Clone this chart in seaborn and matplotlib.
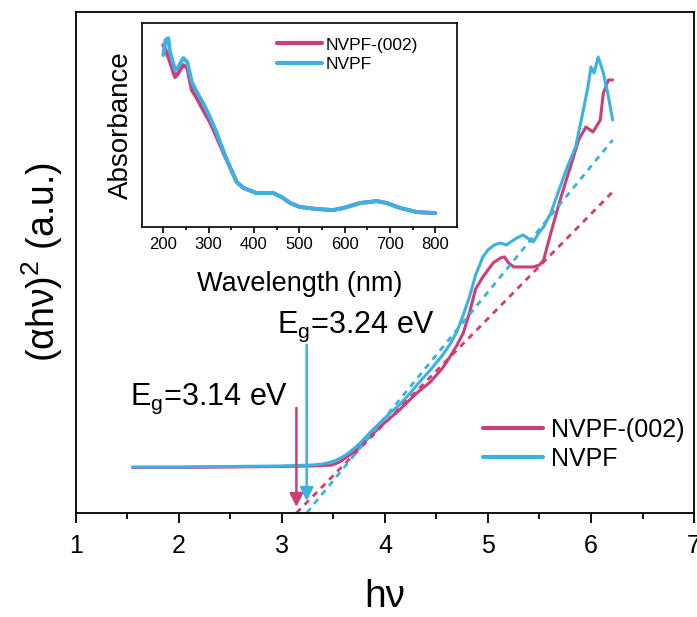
import numpy as np
import pandas as pd
import matplotlib
matplotlib.use("Agg")
import matplotlib.pyplot as plt
import seaborn as sns

# Tauc plot data: photon energy (eV) vs (alpha*h*nu)^2 (a.u.)
hv_nvpf = [1.55, 2.0, 2.5, 3.0, 3.3, 3.40, 3.46, 3.52, 3.58, 3.64, 3.70, 3.76,
           3.85, 3.95, 4.05, 4.14, 4.22, 4.31, 4.44, 4.56, 4.64, 4.70, 4.76,
           4.82, 4.88, 4.95, 5.00, 5.06, 5.12, 5.18, 5.22, 5.28, 5.34, 5.41,
           5.44, 5.50, 5.54, 5.61, 5.70, 5.77, 5.85, 5.92, 5.97, 6.00, 6.03,
           6.07, 6.12, 6.17, 6.21]
tauc_nvpf = [0.46, 0.46, 0.465, 0.47, 0.48, 0.49, 0.505, 0.525, 0.555, 0.595,
             0.645, 0.70, 0.80, 0.90, 1.00, 1.08, 1.17, 1.28, 1.43, 1.58, 1.70,
             1.82, 1.98, 2.16, 2.38, 2.56, 2.63, 2.68, 2.70, 2.68, 2.71, 2.75,
             2.78, 2.73, 2.71, 2.81, 2.86, 3.00, 3.26, 3.46, 3.66, 4.00, 4.26,
             4.46, 4.40, 4.56, 4.40, 4.16, 3.93]

hv_002 = [1.55, 2.0, 2.5, 3.0, 3.3, 3.40, 3.49, 3.56, 3.63, 3.70, 3.76, 3.85,
          3.95, 4.05, 4.14, 4.22, 4.31, 4.44, 4.56, 4.63, 4.70, 4.76, 4.82,
          4.88, 4.95, 5.05, 5.12, 5.16, 5.20, 5.25, 5.35, 5.44, 5.50, 5.54,
          5.61, 5.70, 5.80, 5.88, 5.95, 6.02, 6.09, 6.12, 6.17, 6.21]
tauc_002 = [0.455, 0.455, 0.46, 0.465, 0.47, 0.475, 0.48, 0.51, 0.56, 0.61,
            0.67, 0.76, 0.86, 0.95, 1.03, 1.11, 1.20, 1.31, 1.45, 1.56, 1.68,
            1.80, 2.00, 2.24, 2.36, 2.50, 2.55, 2.56, 2.50, 2.46, 2.46, 2.46,
            2.48, 2.53, 2.80, 3.13, 3.46, 3.73, 3.86, 3.81, 3.93, 4.20, 4.33,
            4.33]

# Linear extrapolations of the absorption edges
fit_hv_nvpf = [3.24, 6.21]
fit_y_nvpf = [0.0, 3.73]
fit_hv_002 = [3.14, 6.21]
fit_y_002 = [0.0, 3.21]

eg_nvpf = 3.24
eg_002 = 3.14

# UV-vis absorbance spectra
wl_nvpf = [200, 205, 211, 215, 226, 233, 244, 253, 263, 274, 288, 303, 318,
           332, 347, 362, 377, 406, 443, 461, 480, 502, 539, 575, 597, 634,
           671, 693, 723, 759, 800]
abs_nvpf = [1.72, 1.87, 1.89, 1.75, 1.57, 1.60, 1.69, 1.65, 1.45, 1.35, 1.24,
            1.10, 0.94, 0.77, 0.60, 0.45, 0.39, 0.34, 0.34, 0.30, 0.24, 0.20,
            0.18, 0.17, 0.19, 0.24, 0.26, 0.24, 0.19, 0.15, 0.14]
wl_002 = [200, 207, 215, 226, 233, 244, 253, 263, 274, 288, 303, 318, 332,
          347, 362, 377, 406, 443, 461, 480, 502, 539, 575, 597, 634, 671,
          693, 723, 759, 800]
abs_002 = [1.82, 1.75, 1.65, 1.50, 1.54, 1.62, 1.59, 1.37, 1.29, 1.17, 1.05,
           0.90, 0.75, 0.60, 0.45, 0.39, 0.34, 0.34, 0.30, 0.24, 0.20, 0.18,
           0.17, 0.19, 0.24, 0.26, 0.24, 0.19, 0.15, 0.14]

labels = ["NVPF-(002)", "NVPF"]
colors = {"NVPF-(002)": "#CE3D78", "NVPF": "#3AB2E2"}

sns.set_style("ticks")
plt.rcParams["font.family"] = ["Liberation Sans", "DejaVu Sans"]
plt.rcParams["mathtext.fontset"] = "custom"
plt.rcParams["mathtext.rm"] = "Liberation Sans"
plt.rcParams["axes.linewidth"] = 1.3
for key in ["text.color", "axes.labelcolor", "xtick.color", "ytick.color",
            "axes.edgecolor"]:
    plt.rcParams[key] = "black"

tauc = pd.concat([
    pd.DataFrame({"hv": hv_002, "y": tauc_002, "sample": labels[0]}),
    pd.DataFrame({"hv": hv_nvpf, "y": tauc_nvpf, "sample": labels[1]}),
])
uv = pd.concat([
    pd.DataFrame({"wl": wl_002, "A": abs_002, "sample": labels[0]}),
    pd.DataFrame({"wl": wl_nvpf, "A": abs_nvpf, "sample": labels[1]}),
])

fig = plt.figure(figsize=(6.97, 6.17), dpi=100)
ax = fig.add_axes([0.109, 0.1686, 0.8867, 0.812])

sns.lineplot(data=tauc, x="hv", y="y", hue="sample", hue_order=labels,
             palette=colors, estimator=None, sort=False, lw=2.2, ax=ax)

for fx, fy, lab in [(fit_hv_002, fit_y_002, labels[0]),
                    (fit_hv_nvpf, fit_y_nvpf, labels[1])]:
    sns.lineplot(x=fx, y=fy, color=colors[lab], lw=2.0, ax=ax,
                 linestyle=(0, (2.2, 2.0)), legend=False)

ax.annotate("", xy=(eg_002, 0.06), xytext=(eg_002, 1.05),
            arrowprops=dict(arrowstyle="-|>", color=colors[labels[0]],
                            lw=1.8, mutation_scale=20, shrinkA=0, shrinkB=0))
ax.annotate("", xy=(eg_nvpf, 0.12), xytext=(eg_nvpf, 1.68),
            arrowprops=dict(arrowstyle="-|>", color=colors[labels[1]],
                            lw=1.8, mutation_scale=20, shrinkA=0, shrinkB=0))
ax.text(1.52, 1.08, r"E$_\mathregular{g}$=3.14 eV", fontsize=22, ha="left",
        va="baseline")
ax.text(2.95, 1.80, r"E$_\mathregular{g}$=3.24 eV", fontsize=22, ha="left",
        va="baseline")

ax.set_xlim(1, 7)
ax.set_ylim(0, 5.01)
ax.set_xticks(range(1, 8))
ax.set_xticks(np.arange(1.5, 7, 1.0), minor=True)
ax.set_yticks([])
ax.tick_params(axis="x", which="major", direction="out", length=7, width=1.3,
               labelsize=18, pad=8)
ax.tick_params(axis="x", which="minor", direction="out", length=4, width=1.3)
for s in ax.spines.values():
    s.set_visible(True)
    s.set_linewidth(1.3)
    s.set_color("black")
ax.set_xlabel("hν", fontsize=28, labelpad=15)
ax.set_ylabel(r"(αhν)$^\mathregular{2}$ (a.u.)", fontsize=27, labelpad=8)

handles, _ = ax.get_legend_handles_labels()
leg = ax.legend(handles[:2], labels, loc="upper left",
                bbox_to_anchor=(0.6586, 0.19), frameon=False, fontsize=18,
                handlelength=2.4, handletextpad=0.3, labelspacing=0.2,
                borderpad=0, borderaxespad=0)
for h in leg.legend_handles:
    h.set_linewidth(3)

# Inset: absorbance spectra
ins = fig.add_axes([0.2037, 0.632, 0.452, 0.3306])
sns.lineplot(data=uv, x="wl", y="A", hue="sample", hue_order=labels,
             palette=colors, estimator=None, sort=False, lw=2.8, ax=ins)
ins.set_xlim(153, 848)
ins.set_ylim(0, 2.04)
ins.set_xticks(range(200, 801, 100))
ins.set_xticks(range(250, 800, 100), minor=True)
ins.set_yticks([])
ins.tick_params(axis="x", which="major", direction="out", length=4, width=1.2,
                labelsize=12, pad=3)
ins.tick_params(axis="x", which="minor", direction="out", length=2.5, width=1.2)
for s in ins.spines.values():
    s.set_visible(True)
    s.set_linewidth(1.2)
    s.set_color("black")
ins.set_xlabel("Wavelength (nm)", fontsize=19.5, labelpad=14)
ins.set_ylabel("Absorbance", fontsize=20, labelpad=6)
ih, _ = ins.get_legend_handles_labels()
ileg = ins.legend(ih[:2], labels, loc="upper left",
                  bbox_to_anchor=(0.4286, 0.93), frameon=False, fontsize=12.5,
                  handlelength=2.6, handletextpad=0.2, labelspacing=0.25,
                  borderpad=0, borderaxespad=0)
for h in ileg.legend_handles:
    h.set_linewidth(3)

fig.savefig("out.png", dpi=100)
